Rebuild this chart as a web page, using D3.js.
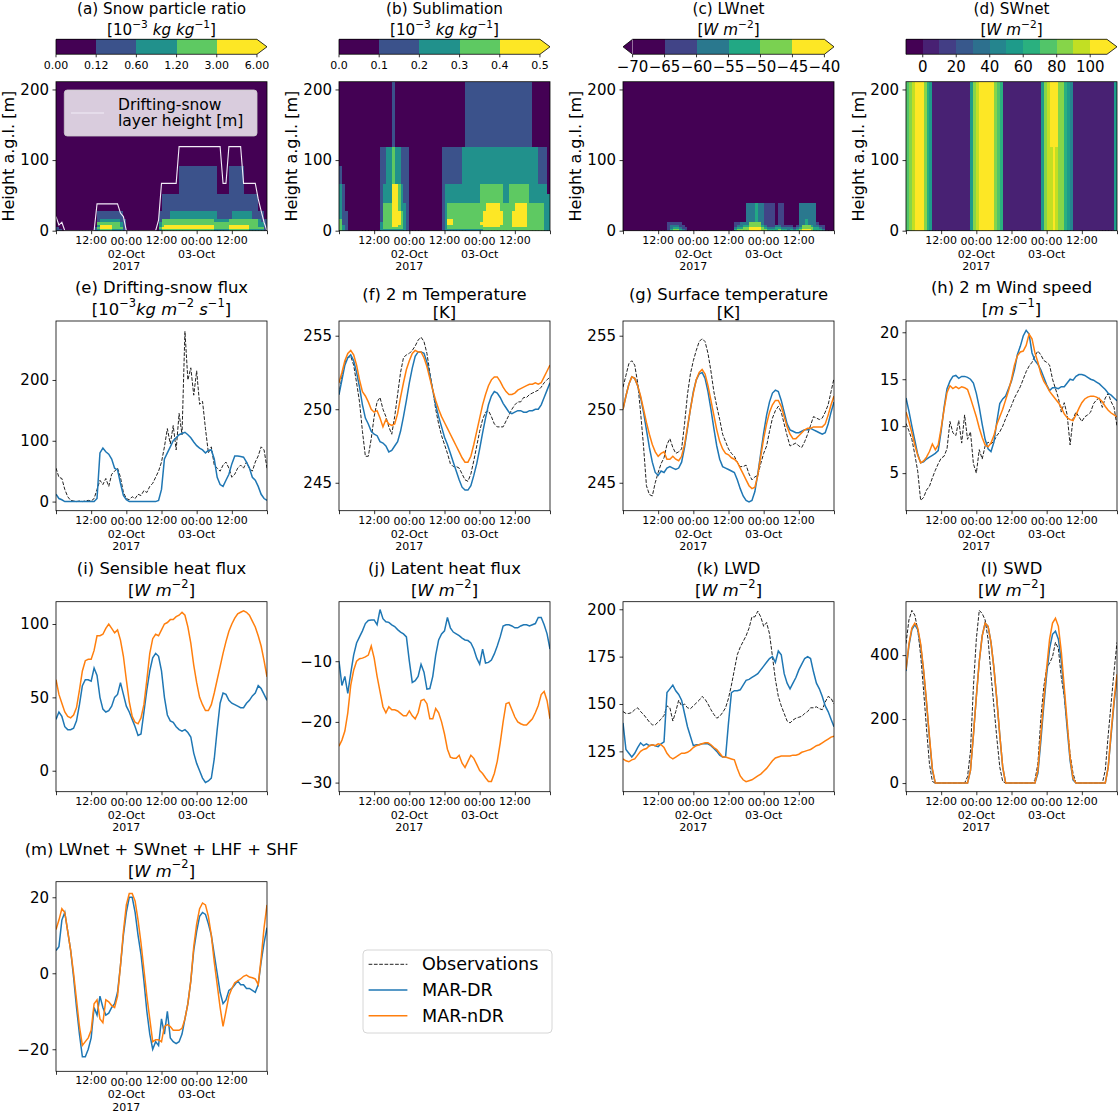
<!DOCTYPE html>
<html>
<head>
<meta charset="utf-8">
<title>MAR-DR / MAR-nDR vs observations</title>
<script src="https://cdn.jsdelivr.net/npm/d3@7"></script>
<style>
  body { margin: 0; background: #fff; }
  text { font-family: "DejaVu Sans", sans-serif; fill: #000; }
</style>
</head>
<body>
<svg id="fig" width="1118" height="1114"></svg>
<script>
// ==============================
// Data: hourly values, 01-Oct-2017 00:00 -> 04-Oct-2017 00:00 (UTC)
// ==============================

// --- x tick labels (every 12 h) ---
const tickLabels = [[], ["12:00"], ["00:00", "02-Oct", "2017"], ["12:00"], ["00:00", "03-Oct"], ["12:00"], []];

// --- model level boundaries [m] used by the height-time panels ---
const levelBounds = [0, 3, 6, 9, 13, 17, 29, 40, 53, 67, 92, 119, 211];

// --- (a) snow particle ratio: colour class per hour, levels bottom -> top ---
const snowBins = [
  "110000000000", "100000000000", "000000000000", "000000000000", "000000000000", "000000000000",
  "000000000000", "000000000000", "000000000000", "000000000000", "000000000000", "000000000000",
  "000000000000", "110000000000", "232311000000", "344321000000", "344321000000", "344321000000",
  "344321000000", "233321000000", "233321000000", "233321000000", "232211000000", "111110000000",
  "000000000000", "000000000000", "000000000000", "000000000000", "000000000000", "000000000000",
  "000000000000", "000000000000", "000000000000", "000000000000", "000000000000", "232211000000",
  "343331110000", "344331110000", "344331110000", "344332110000", "344332110000", "344332110000",
  "344332111100", "344332111100", "344332111100", "344332111100", "344332111100", "344332111100",
  "344332111100", "344332111100", "344332111100", "344332111100", "344332111100", "344332111100",
  "233322111100", "233321110000", "233321110000", "233321110000", "233321110000", "344331111100",
  "344332111100", "344332111100", "344332111100", "344332111100", "344332110000", "344332110000",
  "233332110000", "233331110000", "233331110000", "232221000000", "232211000000", "111110000000"
];
// drifting-snow layer height [m]
const snowHeight = [
  20, 8, 12, 0, 0, 0, 0, 0, 0, 0, 0, 0,
  0, 0, 38, 38, 38, 38, 38, 38, 38, 38, 25, 20,
  0, 0, 0, 0, 0, 0, 0, 0, 0, 0, 0, 15,
  67, 67, 67, 67, 67, 67, 119, 119, 119, 119, 119, 119,
  119, 119, 119, 119, 119, 119, 119, 119, 119, 67, 67, 119,
  119, 119, 119, 119, 67, 67, 67, 67, 67, 45, 28, 12,
  0
];

// --- (b) sublimation classes ---
const sublBins = [
  "333332222100", "222111111000", "111111000000", "000000000000", "000000000000", "000000000000",
  "000000000000", "000000000000", "000000000000", "000000000000", "000000000000", "000000000000",
  "000000000000", "000000000000", "222211111110", "233333322110", "233333322220", "233333322220",
  "234444444331", "234444444220", "233444333220", "233333222110", "222222211110", "111111111110",
  "000000000000", "000000000000", "000000000000", "000000000000", "000000000000", "000000000000",
  "000000000000", "000000000000", "000000000000", "000000000000", "000000000000", "111111111110",
  "222222222110", "233443322110", "233443322110", "233333322110", "233333322110", "233333322110",
  "233333322220", "233333322221", "233333322221", "233333322221", "233333322221", "233333322221",
  "233433333221", "334444333221", "334444433221", "334444433221", "334444433221", "334444433221",
  "334444433221", "333444333221", "333333322221", "333333322221", "333333333221", "334444333221",
  "334444433221", "334444433221", "334444433221", "334444433221", "333333333221", "333333322221",
  "333333322220", "333333322220", "333333322110", "333333322110", "222222222110", "222222220000"
];

// --- (c) LWnet classes ---
const lwnetBins = [
  "000000000000", "000000000000", "000000000000", "000000000000", "000000000000", "000000000000",
  "000000000000", "000000000000", "000000000000", "000000000000", "000000000000", "000000000000",
  "000000000000", "000000000000", "000000000000", "111100000000", "322100000000", "432100000000",
  "432100000000", "321100000000", "211000000000", "110000000000", "000000000000", "000000000000",
  "000000000000", "000000000000", "000000000000", "000000000000", "000000000000", "000000000000",
  "000000000000", "000000000000", "000000000000", "000000000000", "000000000000", "000000000000",
  "000000000000", "000000000000", "321100000000", "432100000000", "432200000000", "443200000000",
  "443222200000", "554422200000", "554422200000", "554433300000", "554422200000", "443222200000",
  "432111100000", "321111100000", "321111100000", "321111100000", "332000000000", "432111100000",
  "321111100000", "321000000000", "221000000000", "321000000000", "210000000000", "321000000000",
  "432222200000", "544222200000", "544332200000", "544222200000", "443222200000", "332222200000",
  "332100000000", "321000000000", "211000000000", "000000000000", "000000000000", "000000000000"
];

// --- (d) SWnet [W m-2], upper level and levels below 119 m ---
const swnet = [
  70, 85, 95, 105, 108, 100, 80, 62, 50, 3, 3, 3,
  3, 3, 3, 3, 3, 3, 3, 3, 3, 5, 55, 80,
  95, 105, 110, 112, 110, 105, 88, 75, 60, 8, 3, 3,
  3, 3, 3, 3, 3, 3, 3, 3, 3, 3, 55, 80,
  95, 105, 106, 104, 88, 80, 65, 55, 45, 5, 3, 3,
  3, 3, 3, 3, 3, 3, 3, 3, 3, 3, 5, 55
];
const swnetLow = [
  70, 85, 95, 105, 108, 100, 80, 62, 50, 3, 3, 3,
  3, 3, 3, 3, 3, 3, 3, 3, 3, 5, 55, 80,
  95, 105, 110, 112, 110, 105, 88, 75, 60, 8, 3, 3,
  3, 3, 3, 3, 3, 3, 3, 3, 3, 3, 55, 80,
  92, 97, 101, 97, 88, 80, 65, 55, 45, 5, 3, 3,
  3, 3, 3, 3, 3, 3, 3, 3, 3, 3, 5, 55
];

// --- (e) drifting-snow flux ---
const fluxObs = [
  55, 40, 38, 20, 8, 2, 1, 0, 1, 0, 1, 2,
  1, 5, 20, 35, 28, 38, 25, 45, 50, 55, 40, 15,
  5, 3, 8, 5, 12, 10, 18, 15, 25, 30, 40, 50,
  65, 90, 120, 95, 125, 85, 145, 110, 280, 200, 220, 175,
  215, 160, 165, 120, 80, 90, 60, 55, 50, 60, 65, 55,
  40, 45, 55, 60, 55, 65, 55, 50, 65, 75, 90, 85,
  55
];
const fluxDR = [
  12, 5, 3, 0, 0, 0, 0, 0, 0, 0, 0, 0,
  0, 0, 5, 80, 88, 82, 78, 70, 55, 52, 30, 10,
  3, 0, 0, 0, 0, 0, 0, 0, 0, 0, 0, 2,
  20, 70, 80, 90, 100, 105, 110, 112, 114, 110, 105, 98,
  92, 88, 85, 80, 84, 85, 70, 40, 28, 25, 35, 45,
  62, 75, 75, 74, 73, 65, 55, 40, 35, 25, 12, 5,
  2
];

// --- (f) 2 m temperature [K] ---
const t2mObs = [
  251.0, 252.2, 253.2, 253.5, 253.6, 253.0, 251.8, 250.5, 248.5, 246.8, 246.8, 248.0,
  249.5, 250.5, 250.8, 250.0, 249.5, 248.8, 248.3, 249.5, 251.0, 252.5, 253.5, 253.7,
  253.8, 254.0, 254.3, 254.7, 254.9, 254.6, 253.8, 252.5, 251.3, 250.0, 249.0, 248.2,
  247.6, 247.0, 246.3, 246.1, 246.1, 246.0, 245.6, 245.2, 245.1, 245.6, 246.5, 247.5,
  248.5, 249.3, 249.8, 249.9, 249.5, 249.0, 248.8, 248.8, 248.8, 249.2, 249.6, 250.0,
  250.3, 250.5, 250.5, 250.8, 250.8, 251.0, 251.1, 251.2, 251.3, 251.5, 251.8, 252.0,
  252.2
];
const t2mDR = [
  251.0, 252.0, 253.0, 253.5, 253.7, 253.3, 252.5, 251.5, 250.3, 249.4, 249.0, 248.5,
  248.3, 248.2, 247.8, 247.7, 247.5, 247.1, 247.2, 247.5, 247.8, 248.5, 249.5, 250.6,
  251.8, 252.8, 253.6, 253.9, 253.9, 253.8, 253.2, 252.3, 251.3, 250.3, 249.5, 248.8,
  248.1, 247.6, 247.0, 246.4, 245.8, 245.2, 244.7, 244.5, 244.5, 244.8, 245.5, 246.3,
  247.3, 248.4, 249.4, 250.3, 250.9, 251.2, 251.1, 250.8, 250.4, 250.1, 249.8, 249.7,
  249.8, 249.9, 249.9, 249.8, 249.8, 249.9, 249.9, 250.0, 250.0, 250.3, 250.8, 251.3,
  251.8
];
const t2mNDR = [
  251.8, 252.5, 253.3, 253.8, 254.0, 253.7, 253.0, 252.0, 251.2, 250.9, 250.5, 250.0,
  249.8, 249.9, 249.4, 248.8, 249.3, 249.0, 248.9, 249.0, 249.7, 250.8, 251.8, 252.7,
  253.3, 253.8, 254.0, 253.9, 253.9, 253.5, 252.9, 252.1, 251.3, 250.6, 250.0, 249.5,
  249.1, 248.7, 248.3, 247.9, 247.5, 247.1, 246.7, 246.4, 246.4, 246.8, 247.6, 248.5,
  249.4, 250.3, 251.0, 251.6, 252.0, 252.2, 252.2, 251.9, 251.5, 251.2, 251.0, 251.0,
  251.1, 251.3, 251.4, 251.5, 251.6, 251.7, 251.7, 251.8, 251.7, 251.8, 252.2, 252.6,
  253.0
];

// --- (g) surface temperature [K] ---
const tsObs = [
  251.5, 252.3, 253.1, 253.3, 253.0, 251.8, 249.8, 247.5, 244.8, 244.2, 244.1, 245.0,
  245.7, 246.3, 246.7, 247.6, 248.0, 247.4, 247.0, 247.1, 247.3, 249.0, 251.0, 252.4,
  253.3, 254.0, 254.6, 254.8, 254.6, 253.8, 252.6, 251.2, 250.2, 249.3, 248.3, 247.8,
  247.3, 247.0, 246.8, 246.4, 246.1, 246.1, 246.2, 245.6, 245.2, 245.4, 245.5, 246.3,
  247.0, 247.5, 248.5, 249.4, 249.9, 250.2, 249.8, 249.0, 248.2, 247.5, 247.6, 247.7,
  247.5, 247.4, 247.8, 248.3, 248.9, 249.5, 249.4, 249.3, 249.4, 249.8, 250.3, 251.2,
  252.1
];
const tsDR = [
  250.0, 250.9, 251.7, 252.2, 252.1, 251.6, 250.8, 249.8, 248.6, 247.4, 246.4, 245.7,
  245.5, 245.8, 245.7, 246.0, 246.1, 246.0, 245.9, 246.0, 246.4, 247.4, 248.7, 250.0,
  251.2, 252.0, 252.4, 252.5, 252.1, 251.2, 250.0, 248.7, 247.5, 246.6, 246.1, 246.0,
  245.9, 245.8, 245.7, 245.2, 244.6, 244.1, 243.8, 243.7, 243.8, 244.4, 245.6, 247.0,
  248.4, 249.6, 250.5, 251.1, 251.3, 251.2, 250.6, 249.8, 249.0, 248.6, 248.5, 248.4,
  248.4, 248.5, 248.6, 248.6, 248.7, 248.6, 248.5, 248.4, 248.3, 248.4, 249.0, 249.8,
  250.5
];
const tsNDR = [
  250.0, 250.9, 251.7, 252.2, 252.1, 251.6, 250.9, 250.0, 249.1, 248.3, 247.6, 247.1,
  246.8, 247.0, 247.1, 246.6, 246.6, 246.8, 246.6, 246.5, 246.8, 247.6, 248.8, 250.0,
  251.1, 252.0, 252.5, 252.7, 252.4, 251.6, 250.6, 249.6, 248.6, 247.8, 247.3, 247.0,
  246.9, 246.7, 246.6, 246.4, 246.0, 245.6, 245.2, 244.8, 244.6, 244.7, 245.5, 246.8,
  248.0, 249.0, 249.8, 250.3, 250.6, 250.6, 250.2, 249.5, 248.8, 248.3, 248.0, 248.0,
  248.2, 248.4, 248.6, 248.7, 248.7, 248.8, 248.8, 248.8, 248.8, 249.0, 249.6, 250.3,
  250.9
];

// --- (h) 2 m wind speed [m s-1] ---
const wsObs = [
  10.3, 9.5, 8.6, 7.0, 5.2, 2.1, 2.4, 3.2, 3.6, 4.5, 5.3, 6.0,
  6.6, 6.8, 7.6, 10.5, 9.3, 9.0, 10.6, 8.2, 11.2, 8.6, 9.4, 6.0,
  5.0, 7.5, 6.5, 7.9, 8.3, 8.1, 8.4, 9.0, 9.4, 10.0, 10.8, 11.5,
  12.2, 13.0, 13.6, 14.2, 15.0, 15.8, 16.4, 16.8, 17.5, 18.0, 17.6, 17.0,
  16.8, 16.5, 15.0, 14.0, 13.0, 11.5, 12.5, 11.2, 8.0, 10.8, 11.5, 11.0,
  10.5, 11.0, 11.2, 11.5, 12.4, 12.8, 13.0, 12.0, 13.0, 13.5, 12.6, 12.0,
  10.0
];
const wsDR = [
  13.0, 11.6, 10.0, 8.5, 7.0, 6.1, 6.2, 6.5, 6.7, 6.9, 7.1, 7.4,
  9.5, 12.0, 14.0, 14.8, 15.3, 15.4, 15.1, 15.3, 15.3, 15.2, 15.0, 14.6,
  13.5, 12.0, 10.2, 8.6, 7.6, 7.3, 8.3, 10.5, 12.4, 12.9, 13.2, 14.0,
  14.8, 16.0, 17.6, 18.5, 19.6, 20.2, 19.8, 17.8, 17.0, 16.6, 16.0, 15.2,
  14.4, 13.8, 14.1, 14.1, 14.0, 14.2, 14.2, 14.6, 15.0, 14.9, 15.3, 15.5,
  15.5, 15.4, 15.2, 15.0, 14.9, 14.7, 14.5, 14.2, 13.9, 13.5, 13.3, 13.0,
  12.7
];
const wsNDR = [
  11.5, 10.5, 9.3, 8.0, 6.9, 6.1, 6.3, 6.7, 7.3, 8.1, 7.5, 8.0,
  9.8, 11.8, 13.6, 14.3, 14.0, 14.2, 14.0, 14.2, 14.1, 13.9, 13.0, 12.0,
  11.0, 9.8, 8.8, 8.0, 7.8, 8.2, 9.0, 10.2, 11.0, 11.8, 12.8, 13.8,
  15.0, 16.5, 17.5, 17.9, 18.0, 18.6, 19.8, 19.3, 17.8, 16.8, 15.6, 14.8,
  14.3, 13.7, 13.3, 12.9, 12.5, 12.0, 11.3, 10.9, 10.7, 10.6, 11.2, 11.9,
  12.5, 12.9, 13.1, 13.2, 13.2, 13.1, 12.9, 12.6, 12.1, 11.7, 11.4, 11.2,
  11.0
];

// --- (i) sensible heat flux [W m-2] ---
const shfDR = [
  35, 40, 37, 30, 28, 28, 29, 34, 45, 58, 62, 62,
  61, 70, 65, 50, 42, 40, 41, 44, 50, 52, 60, 52,
  44, 40, 35, 30, 24, 25, 40, 55, 68, 77, 80, 78,
  68, 50, 38, 34, 33, 30, 28, 27, 28, 26, 23, 12,
  5, 0, -5, -8, -7, -5, 8, 28, 46, 53, 52, 48,
  46, 45, 44, 43, 43, 46, 48, 51, 53, 58, 56, 52,
  48
];
const shfNDR = [
  62, 52, 46, 40, 37, 36, 38, 43, 55, 68, 75, 76,
  76, 82, 92, 92, 93, 97, 100, 97, 94, 96, 89, 78,
  62, 47, 37, 33, 32, 36, 45, 62, 80, 90, 93, 92,
  96, 100, 101, 103, 103, 105, 106, 108, 106, 98, 87, 72,
  60, 50, 45, 41, 41, 45, 53, 62, 71, 80, 88, 95,
  100, 104, 107, 108, 109, 108, 106, 102, 98, 92, 85, 75,
  64
];

// --- (j) latent heat flux [W m-2] ---
const lhfDR = [
  -10, -14, -12.5, -15.3, -12, -9, -7, -6, -5, -3.8, -3.3, -3.2,
  -3.2, -4, -1.5, -3, -3.5, -3.6, -4, -4.3, -4.8, -5.2, -5.5, -6,
  -10, -13.5, -13.2, -12.5, -10.5, -11.8, -14.6, -14.5, -12.5, -9, -6.5, -5.5,
  -5, -2.8, -4.5, -5.2, -5.5, -5.8, -6.2, -6.5, -6.6, -7, -8, -9.5,
  -10.5, -8, -10.3, -10.2, -9.8, -8.8, -7.5, -6, -4.2, -4, -4, -4.2,
  -4.5, -4.5, -4.2, -4, -4, -4.2, -4, -3.8, -2.8, -2.8, -4, -5.5,
  -8
];
const lhfNDR = [
  -24, -23, -21.5, -18.5, -14, -11.5, -10, -9.6, -9.5, -9.3, -9, -7.5,
  -9.5, -12.5, -15, -17.5, -18.5, -17.5, -18, -18, -18.2, -18.6, -19, -19,
  -18.2, -19, -19.5, -18.5, -16.5, -16.3, -17, -19.5, -19.5, -17.8, -18.5, -20,
  -22, -24.5, -25.8, -26, -26, -25.5, -26.8, -27.5, -26.5, -25.5, -26, -27,
  -28, -28.5, -29.2, -29.8, -29.8, -28.5, -26.5, -23.5, -20, -17, -16.8, -18,
  -19.2, -20, -20.3, -20.5, -20.5, -20, -19.5, -18.5, -17.3, -15.5, -15, -16.5,
  -19.5
];

// --- (k) LWD [W m-2] ---
const lwdObs = [
  146, 145, 145, 145.5, 147, 148, 146, 144.5, 142.5, 140.5, 139, 139,
  140.5, 142, 144, 149, 148, 141, 146, 152, 149, 150, 148, 147.5,
  149, 150.5, 152, 154, 152.5, 150, 147, 144.5, 142.5, 143.5, 145.5, 148,
  153, 160, 168, 176, 180, 183, 186, 190, 196, 196, 199, 196,
  191, 193, 187, 175, 163, 154, 149, 145, 141, 140, 141.5, 142.5,
  143, 143.5, 145, 146, 148, 148, 148.5, 147.5, 147, 151, 154, 153,
  150
];
const lwdDR = [
  140, 126, 124, 122, 124, 127, 129.5, 128, 129, 128, 128.5, 128,
  127.5, 129, 130, 156, 158, 160, 157, 155, 152, 145, 138, 133,
  128, 128.5, 128.5, 129, 129, 129, 128, 126.5, 125, 123, 122, 122,
  140, 156, 157, 157, 157.5, 160, 162.5, 163, 164, 165, 166, 168,
  170, 172, 174, 175, 172, 178, 176, 166, 161, 158, 161, 164,
  168, 171, 174, 175, 174, 167, 161, 158, 154, 149, 146, 142,
  138
];
const lwdNDR = [
  121, 120, 119.5, 120.5, 121, 123, 125, 126, 126.5, 128, 128.5, 128,
  129, 128.5, 127, 124, 122, 121, 122, 123, 124, 124, 124.5, 125.5,
  127, 128, 128.5, 129, 129.5, 129.5, 128.5, 127, 126, 124, 122, 122,
  121.5, 121, 120.5, 116, 112, 110, 109, 109.5, 110, 111, 112, 113,
  114.5, 116, 118, 120, 121.5, 122, 122.5, 122.5, 122.5, 122.5, 123, 123,
  123.5, 124.5, 125, 125.5, 126, 127, 128, 128.5, 129.5, 130.5, 131.5, 132.5,
  133
];

// --- (l) SWD [W m-2] ---
const swdObs = [
  436, 510, 540, 525, 480, 400, 290, 170, 60, 5, 0, 0,
  0, 0, 0, 0, 0, 0, 0, 0, 0, 20, 100, 300,
  450, 540, 530, 510, 450, 340, 240, 140, 50, 5, 0, 0,
  0, 0, 0, 0, 0, 0, 0, 0, 10, 60, 200, 300,
  360, 375, 395, 440, 420, 330, 270, 180, 90, 30, 0, 0,
  0, 0, 0, 0, 0, 0, 0, 0, 40, 150, 250, 350,
  440
];
const swdDR = [
  350, 430, 480, 495, 480, 430, 350, 250, 140, 40, 0, 0,
  0, 0, 0, 0, 0, 0, 0, 0, 0, 0, 40, 150,
  270, 380, 460, 500, 490, 440, 360, 260, 150, 50, 0, 0,
  0, 0, 0, 0, 0, 0, 0, 0, 0, 30, 130, 240,
  340, 420, 465, 475, 450, 380, 280, 170, 70, 10, 0, 0,
  0, 0, 0, 0, 0, 0, 0, 0, 0, 50, 150, 250,
  330
];
const swdNDR = [
  355, 435, 485, 500, 485, 435, 355, 255, 145, 45, 0, 0,
  0, 0, 0, 0, 0, 0, 0, 0, 0, 0, 40, 150,
  270, 380, 460, 500, 490, 440, 360, 260, 150, 50, 0, 0,
  0, 0, 0, 0, 0, 0, 0, 0, 0, 40, 150, 260,
  360, 450, 500, 515, 490, 410, 300, 190, 80, 15, 0, 0,
  0, 0, 0, 0, 0, 0, 0, 0, 0, 50, 160, 260,
  340
];

// --- (m) LWnet + SWnet + LHF + SHF [W m-2] ---
const sebDR = [
  6, 7, 14, 16, 11, 6, -1, -9, -16, -22, -22, -20,
  -17, -9, -11, -6, -9, -11, -10.5, -9, -8, -5, 2, 10,
  16, 20, 20, 16, 10, 5, -2, -10, -16, -20, -18, -19,
  -12, -16, -10, -17, -18, -18.5, -18, -16, -12, -8, -2, 6,
  11, 15, 16, 15.5, 13, 10, 5, 0, -5, -8, -7, -4.5,
  -4, -3, -2, -3, -3, -4, -4, -4.5, -5, -3, 3, 8,
  12
];
const sebNDR = [
  11.5, 14, 17, 16, 11, 6, 0, -7, -14, -19, -18, -17,
  -15, -8, -7, -12, -13, -7, -7.5, -8.5, -9, -6, 2, 11,
  18, 21, 21, 19, 14, 8, 1, -6, -12, -18, -17.5, -17.5,
  -18, -14, -13.5, -14, -15, -15, -15, -14.5, -12, -8, -2, 7,
  13, 17, 18.5, 18, 15, 10, 3, -3, -9, -14, -10, -6,
  -4, -2.5, -2, -1.5, -0.8, -0.5, -1, -1.2, -1.5, -3, 4, 12,
  18
];

// --- colour-bar tick labels ---
const ratioTicks = ["0.00", "0.12", "0.60", "1.20", "3.00", "6.00"];
const sublTicks = ["0.0", "0.1", "0.2", "0.3", "0.4", "0.5"];
const lwnetTicks = ["−70", "−65", "−60", "−55", "−50", "−45", "−40"];
const swnetTicks = ["0", "20", "40", "60", "80", "100"];
const swnetBounds = [0, 10, 20, 30, 40, 50, 60, 70, 80, 90, 100];

// ==============================
// Layout
// ==============================
const svg = d3.select("#fig");
const FS_TITLE = 16.4, FS_TOP = 15.2, FS_TICK = 15, FS_XTICK = 11;
const C_DR = "#1f77b4", C_NDR = "#ff7f0e", C_OBS = "#222";
const colLeft = [56, 339, 623, 906], axW = 211;
const rowTop = [81.7, 321, 601.7, 881.7];
const rowBot = [230.7, 510.7, 791.7, 1071.3];

const t0 = new Date(Date.UTC(2017, 9, 1, 0));
const t1 = new Date(Date.UTC(2017, 9, 4, 0));
const hours = d3.utcHour.range(t0, d3.utcHour.offset(t1, 1));
const tickDates = d3.utcHour.every(12).range(t0, d3.utcHour.offset(t1, 1));

// units, written as [text, style] with style "i" = italic, "^" = superscript
const unitRatio = [["[10", ""], ["−3", "^"], [" kg kg", "i"], ["−1", "^"], ["]", ""]];
const unitWm2 = [["[", ""], ["W m", "i"], ["−2", "^"], ["]", ""]];
const unitFlux = [["[10", ""], ["−3", "^"], ["kg m", "i"], ["−2", "^"], [" s", "i"], ["−1", "^"], ["]", ""]];
const unitK = [["[K]", ""]];
const unitMs = [["[", ""], ["m s", "i"], ["−1", "^"], ["]", ""]];

function richText(sel, parts, fs) {
    let up = false;
    parts.forEach(([s, st]) => {
        const sup = st.includes("^");
        const ts = sel.append("tspan").text(s);
        if (st.includes("i")) ts.attr("font-style", "italic");
        if (sup) ts.attr("font-size", fs * 0.7);
        if (sup !== up) {
            ts.attr("dy", sup ? -0.38 * fs : 0.38 * fs);
            up = sup;
        }
    });
}

function title(col, y1, y2, line1, unit, fs = FS_TITLE) {
    const cx = colLeft[col] + axW / 2;
    svg.append("text")
        .attr("x", cx).attr("y", y1)
        .attr("text-anchor", "middle")
        .attr("dominant-baseline", "central")
        .attr("font-size", fs)
        .text(line1);
    const t = svg.append("text")
        .attr("x", cx).attr("y", y2)
        .attr("text-anchor", "middle")
        .attr("dominant-baseline", "central")
        .attr("font-size", fs);
    richText(t, unit, fs);
}

function makeX(col) {
    return d3.scaleUtc().domain([t0, t1]).range([colLeft[col], colLeft[col] + axW]);
}

function xAxis(x, bottom) {
    svg.append("g")
        .attr("transform", `translate(0,${bottom})`)
        .call(d3.axisBottom(x).tickValues(tickDates).tickSize(3.5).tickFormat(() => ""))
        .call(a => a.select(".domain").remove())
        .call(a => a.selectAll(".tick line").attr("stroke", "#000").attr("stroke-width", 0.8));

    tickDates.forEach((d, i) => {
        tickLabels[i].forEach((s, k) => {
            const dy = k === 0 ? (s === "12:00" ? 9.5 : 11) : (k === 1 ? 23.3 : 36.2);
            svg.append("text")
                .attr("x", x(d)).attr("y", bottom + dy)
                .attr("text-anchor", "middle")
                .attr("dominant-baseline", "central")
                .attr("font-size", FS_XTICK)
                .text(s);
        });
    });
}

function yAxis(y, left, ticks) {
    svg.append("g")
        .attr("transform", `translate(${left},0)`)
        .call(d3.axisLeft(y).tickValues(ticks).tickSize(3.5).tickPadding(3.5).tickFormat(d3.format("d")))
        .call(a => a.select(".domain").remove())
        .call(a => a.selectAll(".tick line").attr("stroke", "#000").attr("stroke-width", 0.8))
        .call(a => a.selectAll("text")
            .attr("font-size", FS_TICK)
            .attr("font-family", '"DejaVu Sans", sans-serif')
            .attr("fill", "#000"));
}

function frame(col, row) {
    svg.append("rect")
        .attr("x", colLeft[col]).attr("y", rowTop[row])
        .attr("width", axW).attr("height", rowBot[row] - rowTop[row])
        .attr("fill", "none").attr("stroke", "#000").attr("stroke-width", 0.8);
}

function clipFor(col, row) {
    const id = `clip-${col}-${row}`;
    if (svg.select(`#${id}`).empty()) {
        svg.append("clipPath").attr("id", id)
            .append("rect")
            .attr("x", colLeft[col]).attr("y", rowTop[row])
            .attr("width", axW).attr("height", rowBot[row] - rowTop[row]);
    }
    return `url(#${id})`;
}

// --- colour bars (top row) ---
function colorbar(col, colors, extL, extR, labels, labelPos, fs, labelY) {
    const top = 39.3, h = 15;
    const nExt = (extL ? 1 : 0) + (extR ? 1 : 0);
    const rectW = axW / (1 + 0.05 * nExt);
    const tri = rectW * 0.05;
    const x0 = colLeft[col] + (extL ? tri : 0);
    const n = colors.length;
    const cx = d3.scaleLinear().domain([0, n]).range([x0, x0 + rectW]);
    const g = svg.append("g");

    g.append("g").attr("shape-rendering", "crispEdges")
        .selectAll("rect").data(colors).join("rect")
        .attr("x", (c, i) => cx(i)).attr("y", top)
        .attr("width", (c, i) => cx(i + 1) - cx(i) + 0.3).attr("height", h)
        .attr("fill", c => c);

    let outline = `M${x0},${top}`;
    if (extR) {
        g.append("path").attr("d", `M${cx(n)},${top}L${cx(n) + tri},${top + h / 2}L${cx(n)},${top + h}Z`).attr("fill", colors[n - 1]);
        outline += `L${cx(n)},${top}L${cx(n) + tri},${top + h / 2}L${cx(n)},${top + h}`;
    } else {
        outline += `L${cx(n)},${top}L${cx(n)},${top + h}`;
    }
    if (extL) {
        g.append("path").attr("d", `M${x0},${top}L${x0 - tri},${top + h / 2}L${x0},${top + h}Z`).attr("fill", colors[0]);
        outline += `L${x0},${top + h}L${x0 - tri},${top + h / 2}Z`;
    } else {
        outline += `L${x0},${top + h}Z`;
    }
    g.append("path").attr("d", outline).attr("fill", "none").attr("stroke", "#000").attr("stroke-width", 0.8);

    labels.forEach((s, i) => {
        const px = cx(labelPos[i]);
        g.append("line").attr("x1", px).attr("x2", px).attr("y1", top + h).attr("y2", top + h + 3)
            .attr("stroke", "#000").attr("stroke-width", 0.8);
        g.append("text")
            .attr("x", px).attr("y", labelY)
            .attr("text-anchor", "middle")
            .attr("dominant-baseline", "central")
            .attr("font-size", fs)
            .text(s);
    });
}

// --- height-time panels ---
function heatmap(col, cellColor) {
    const row = 0;
    const x = makeX(col);
    const y = d3.scaleLinear().domain([0, 211]).range([rowBot[row], rowTop[row]]);
    const cells = [];
    hours.slice(0, 72).forEach((d, h) => {
        for (let k = 0; k < levelBounds.length - 1; k++) cells.push({ h, k });
    });
    svg.append("g").attr("clip-path", clipFor(col, row)).attr("shape-rendering", "crispEdges")
        .selectAll("rect").data(cells).join("rect")
        .attr("x", c => x(hours[c.h]))
        .attr("width", c => x(hours[c.h + 1]) - x(hours[c.h]) + 0.5)
        .attr("y", c => y(levelBounds[c.k + 1]))
        .attr("height", c => y(levelBounds[c.k]) - y(levelBounds[c.k + 1]) + 0.5)
        .attr("fill", c => cellColor(c.h, c.k));

    yAxis(y, colLeft[col], [0, 100, 200]);
    xAxis(x, rowBot[row]);
    svg.append("text")
        .attr("transform", `translate(${colLeft[col] - 47.5},${(rowTop[row] + rowBot[row]) / 2}) rotate(-90)`)
        .attr("text-anchor", "middle")
        .attr("dominant-baseline", "central")
        .attr("font-size", 16)
        .text("Height a.g.l. [m]");
    return { x, y };
}

const viridis5 = d3.quantize(d3.interpolateViridis, 5);
const viridis6 = d3.quantize(d3.interpolateViridis, 6);
const viridis12 = d3.quantize(d3.interpolateViridis, 12);
const classColor5 = d3.scaleOrdinal(d3.range(5), viridis5);
const classColor6 = d3.scaleOrdinal(d3.range(6), viridis6);
const swColor = d3.scaleThreshold().domain(swnetBounds).range(viridis12);

// (a)
const pa = heatmap(0, (h, k) => classColor5(+snowBins[h][k]));
svg.append("path")
    .datum(snowHeight)
    .attr("clip-path", clipFor(0, 0))
    .attr("fill", "none").attr("stroke", "#f2ecf8").attr("stroke-width", 1.1)
    .attr("d", d3.line().x((v, i) => pa.x(hours[i])).y(v => pa.y(v)));
// legend inside (a)
const lg = svg.append("g");
lg.append("rect").attr("x", 64.3).attr("y", 90).attr("width", 192.7).attr("height", 46).attr("rx", 3)
    .attr("fill", "#fff").attr("fill-opacity", 0.8).attr("stroke", "#ccc").attr("stroke-opacity", 0.8);
lg.append("line").attr("x1", 71).attr("x2", 104).attr("y1", 113).attr("y2", 113)
    .attr("stroke", "#f2ecf8").attr("stroke-width", 1.1);
lg.append("text").attr("x", 118).attr("y", 104.5).attr("dominant-baseline", "central").attr("font-size", 15.5).text("Drifting-snow");
lg.append("text").attr("x", 118).attr("y", 121).attr("dominant-baseline", "central").attr("font-size", 15.5).text("layer height [m]");
frame(0, 0);
colorbar(0, viridis5, false, true, ratioTicks, [0, 1, 2, 3, 4, 5], 11, 65);
title(0, 9, 30, "(a) Snow particle ratio", unitRatio, FS_TOP);

// (b)
heatmap(1, (h, k) => classColor5(+sublBins[h][k]));
frame(1, 0);
colorbar(1, viridis5, false, true, sublTicks, [0, 1, 2, 3, 4, 5], 11, 65);
title(1, 9, 30, "(b) Sublimation", unitRatio, FS_TOP);

// (c)
heatmap(2, (h, k) => classColor6(+lwnetBins[h][k]));
frame(2, 0);
colorbar(2, viridis6, true, true, lwnetTicks, [0, 1, 2, 3, 4, 5, 6], 15, 66.7);
title(2, 9, 30, "(c) LWnet", unitWm2, FS_TOP);

// (d)
heatmap(3, (h, k) => swColor(k === levelBounds.length - 2 ? swnet[h] : swnetLow[h]));
frame(3, 0);
colorbar(3, viridis12, false, true, swnetTicks, [1, 3, 5, 7, 9, 11], 15, 66.7);
title(3, 9, 30, "(d) SWnet", unitWm2, FS_TOP);

// --- time-series panels ---
const linePanels = [
    { col: 0, row: 1, name: "(e) Drifting-snow flux", unit: unitFlux, t: [287.3, 309.3], dom: [-15, 297], ticks: [0, 100, 200], obs: fluxObs, dr: fluxDR },
    { col: 1, row: 1, name: "(f) 2 m Temperature", unit: unitK, t: [294, 311.7], dom: [243.1, 256.0], ticks: [245, 250, 255], obs: t2mObs, dr: t2mDR, ndr: t2mNDR },
    { col: 2, row: 1, name: "(g) Surface temperature", unit: unitK, t: [294, 311.7], dom: [243.1, 256.0], ticks: [245, 250, 255], obs: tsObs, dr: tsDR, ndr: tsNDR },
    { col: 3, row: 1, name: "(h) 2 m Wind speed", unit: unitMs, t: [287.3, 309.3], dom: [1.0, 21.2], ticks: [5, 10, 15, 20], obs: wsObs, dr: wsDR, ndr: wsNDR },
    { col: 0, row: 2, name: "(i) Sensible heat flux", unit: unitWm2, t: [568.3, 590], dom: [-14.3, 115.2], ticks: [0, 50, 100], dr: shfDR, ndr: shfNDR },
    { col: 1, row: 2, name: "(j) Latent heat flux", unit: unitWm2, t: [568.3, 590], dom: [-31.5, -0.2], ticks: [-30, -20, -10], dr: lhfDR, ndr: lhfNDR },
    { col: 2, row: 2, name: "(k) LWD", unit: unitWm2, t: [568.3, 590], dom: [103.7, 204], ticks: [125, 150, 175, 200], obs: lwdObs, dr: lwdDR, ndr: lwdNDR },
    { col: 3, row: 2, name: "(l) SWD", unit: unitWm2, t: [568.3, 590], dom: [-27, 567], ticks: [0, 200, 400], obs: swdObs, dr: swdDR, ndr: swdNDR },
    { col: 0, row: 3, name: "(m) LWnet + SWnet + LHF + SHF", unit: unitWm2, t: [849, 870.7], dom: [-25.8, 24.1], ticks: [-20, 0, 20], dr: sebDR, ndr: sebNDR }
];

linePanels.forEach(p => {
    const x = makeX(p.col);
    const y = d3.scaleLinear().domain(p.dom).range([rowBot[p.row], rowTop[p.row]]);
    const line = d3.line().x((v, i) => x(hours[i])).y(v => y(v));
    const g = svg.append("g").attr("clip-path", clipFor(p.col, p.row));

    if (p.obs) g.append("path").datum(p.obs).attr("d", line)
        .attr("fill", "none").attr("stroke", C_OBS).attr("stroke-width", 1).attr("stroke-dasharray", "3.7,1.6");
    if (p.dr) g.append("path").datum(p.dr).attr("d", line)
        .attr("fill", "none").attr("stroke", C_DR).attr("stroke-width", 1.5);
    if (p.ndr) g.append("path").datum(p.ndr).attr("d", line)
        .attr("fill", "none").attr("stroke", C_NDR).attr("stroke-width", 1.5);

    frame(p.col, p.row);
    yAxis(y, colLeft[p.col], p.ticks);
    xAxis(x, rowBot[p.row]);
    title(p.col, p.t[0], p.t[1], p.name, p.unit);
});

// --- shared legend ---
const legendItems = [
    { label: "Observations", color: C_OBS, dash: "3.7,1.6", lw: 1 },
    { label: "MAR-DR", color: C_DR, dash: null, lw: 1.5 },
    { label: "MAR-nDR", color: C_NDR, dash: null, lw: 1.5 }
];
const leg = svg.append("g");
leg.append("rect").attr("x", 363).attr("y", 950).attr("width", 189).attr("height", 83).attr("rx", 4)
    .attr("fill", "#fff").attr("stroke", "#d6d6d6").attr("stroke-width", 1);
legendItems.forEach((it, i) => {
    const cy = 964.3 + i * 25.7;
    leg.append("line").attr("x1", 368.6).attr("x2", 407.4).attr("y1", cy).attr("y2", cy)
        .attr("stroke", it.color).attr("stroke-width", it.lw)
        .attr("stroke-dasharray", it.dash);
    leg.append("text").attr("x", 422).attr("y", cy).attr("dominant-baseline", "central")
        .attr("font-size", 17.6).text(it.label);
});
</script>
</body>
</html>
